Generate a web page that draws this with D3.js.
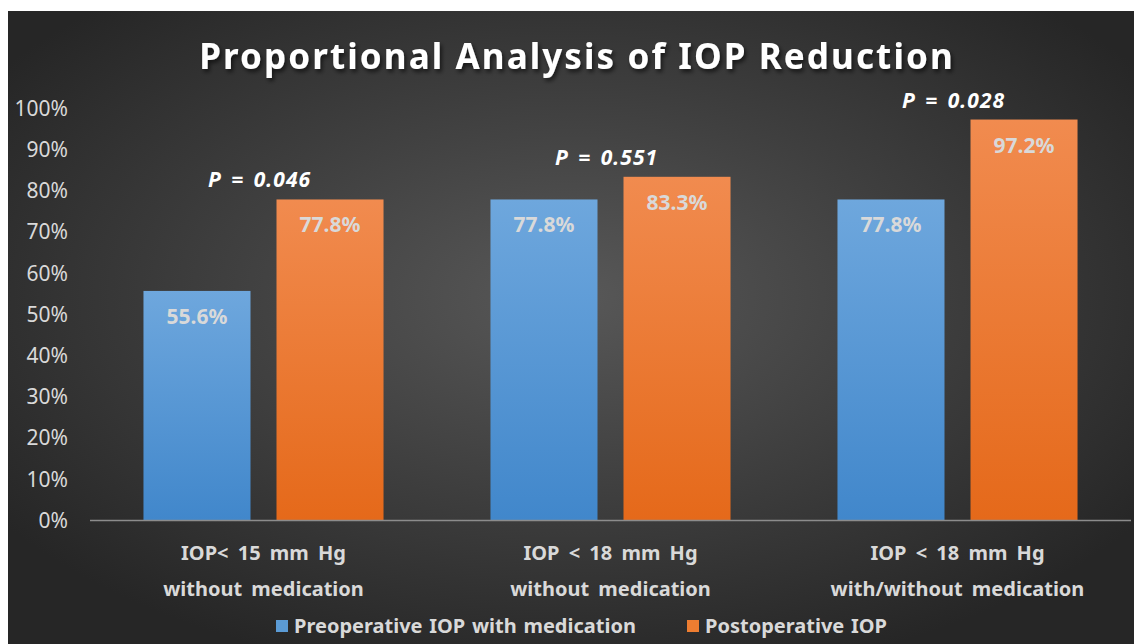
<!DOCTYPE html>
<html><head><meta charset="utf-8">
<script src="https://cdn.jsdelivr.net/npm/d3@7/dist/d3.min.js"></script>
<style>html,body{margin:0;padding:0;background:#fff;}svg{display:block;font-family:"Noto Sans","Open Sans",sans-serif;}</style>
</head><body>
<svg id="chart" width="1134" height="644"></svg>
<script>
const categories = [["IOP< 15 mm Hg","without medication"],["IOP < 18 mm Hg","without medication"],["IOP < 18 mm Hg","with/without medication"]];
const seriesNames = ["Preoperative IOP with medication","Postoperative IOP"];
const preop = [55.6, 77.8, 77.8];
const postop = [77.8, 83.3, 97.2];
const pValues = ["P = 0.046","P = 0.551","P = 0.028"];
const yTicks = [0,10,20,30,40,50,60,70,80,90,100];
const title = "Proportional Analysis of IOP Reduction";

const svg = d3.select("#chart");
const defs = svg.append("defs");
const rg = defs.append("radialGradient").attr("id","bg").attr("cx","0.5").attr("cy","0.45").attr("r","0.62")
  .attr("gradientUnits","objectBoundingBox");
rg.append("stop").attr("offset","0").attr("stop-color","#585858");
rg.append("stop").attr("offset","1").attr("stop-color","#262626");
const gb = defs.append("linearGradient").attr("id","gBlue").attr("x1",0).attr("y1",0).attr("x2",0).attr("y2",1);
gb.append("stop").attr("offset","0").attr("stop-color","#6ea7dd");
gb.append("stop").attr("offset","1").attr("stop-color","#4187cb");
const go = defs.append("linearGradient").attr("id","gOrange").attr("x1",0).attr("y1",0).attr("x2",0).attr("y2",1);
go.append("stop").attr("offset","0").attr("stop-color","#f18b4f");
go.append("stop").attr("offset","1").attr("stop-color","#e5691a");
const sh = defs.append("filter").attr("id","shadow").attr("x","-10%").attr("y","-30%").attr("width","120%").attr("height","160%");
sh.append("feDropShadow").attr("dx",2).attr("dy",3).attr("stdDeviation",2).attr("flood-color","#000").attr("flood-opacity",0.6);

svg.append("rect").attr("x",8).attr("y",11).attr("width",1126).attr("height",633).attr("fill","url(#bg)");

const x0 = d3.scaleBand().domain(d3.range(categories.length)).range([90,1131]);
const x1 = d3.scaleBand().domain(seriesNames).range([0,x0.bandwidth()]).paddingInner(0.1955).paddingOuter(0.402);
const y = d3.scaleLinear().domain([0,100]).range([520,108]);
const fills = ["url(#gBlue)","url(#gOrange)"];
const legendColors = ["#5b9bd5","#ed7d31"];

// title
svg.append("text").attr("x",577).attr("y",69).attr("text-anchor","middle")
  .attr("font-size",35).attr("font-weight","bold").attr("fill","#fff").attr("letter-spacing","2.1")
  .attr("filter","url(#shadow)").text(title);

// y axis
const yAxis = d3.axisLeft(y).tickValues(yTicks).tickFormat(d=>d+"%").tickSize(0).tickPadding(0);
const ya = svg.append("g").attr("transform","translate(68,0)").call(yAxis);
ya.select(".domain").remove();
ya.selectAll("text").attr("font-size",21).attr("fill","#d9d9d9").attr("dy","0.35em").style("font-family","'Noto Sans',sans-serif");

// bars
const data = categories.map((c,i)=>({i, vals:[preop[i],postop[i]]}));
const g = svg.append("g");
data.forEach(d=>{
  d.vals.forEach((v,j)=>{
    const bx = x0(d.i)+x1(seriesNames[j]);
    g.append("rect").attr("x",bx).attr("y",y(v)).attr("width",x1.bandwidth()).attr("height",y(0)-y(v)).attr("fill",fills[j]);
    g.append("text").attr("x",bx+x1.bandwidth()/2).attr("y",y(v)+33).attr("text-anchor","middle")
      .attr("font-size",21).attr("font-weight","bold").attr("fill","#d9d9d9").text(v.toFixed(1)+"%");
  });
  svg.append("text").attr("x",x0(d.i)+x0.bandwidth()/2-4).attr("y",y(d.vals[1])-12).attr("text-anchor","middle")
    .attr("font-size",21).attr("font-weight","bold").attr("font-style","italic").attr("fill","#fff")
    .attr("letter-spacing","1").attr("word-spacing","3").text(pValues[d.i]);
});

// x axis line
svg.append("line").attr("x1",90).attr("x2",1131).attr("y1",y(0)+0.5).attr("y2",y(0)+0.5).attr("stroke","#8c8c8c").attr("stroke-width",1.5);

// category labels
categories.forEach((c,i)=>{
  c.forEach((line,k)=>{
    svg.append("text").attr("x",x0(i)+x0.bandwidth()/2).attr("y",560+k*36).attr("text-anchor","middle")
      .attr("font-size",20).attr("font-weight","bold").attr("fill","#d9d9d9").attr("word-spacing","4").text(line);
  });
});

// legend
const legX = [276, 687];
seriesNames.forEach((s,j)=>{
  svg.append("rect").attr("x",legX[j]).attr("y",620).attr("width",12).attr("height",12).attr("fill",legendColors[j]);
  svg.append("text").attr("x",legX[j]+18).attr("y",633).attr("font-size",20).attr("font-weight","bold").attr("fill","#d9d9d9").attr("word-spacing","1.5").text(s);
});
</script>
</body></html>
